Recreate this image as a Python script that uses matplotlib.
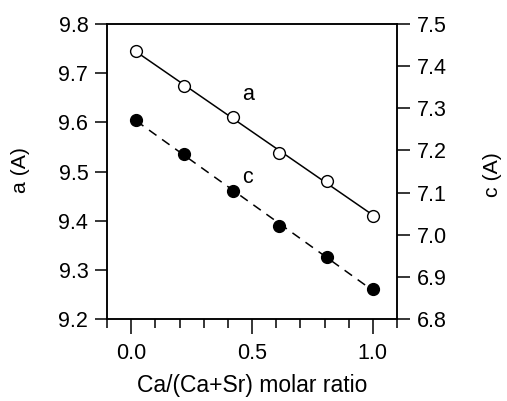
import numpy as np
import matplotlib
matplotlib.use("Agg")
import matplotlib.pyplot as plt
from matplotlib.ticker import MultipleLocator, FixedLocator

plt.rcParams['font.family'] = ['Liberation Sans', 'DejaVu Sans']

# data
ratio = [0.02, 0.22, 0.42, 0.61, 0.81, 1.0]
a_vals = [9.745, 9.674, 9.611, 9.538, 9.481, 9.410]
c_vals = [7.272, 7.191, 7.104, 7.021, 6.947, 6.871]
x_major = [0.0, 0.5, 1.0]
left_ticks = [9.2, 9.3, 9.4, 9.5, 9.6, 9.7, 9.8]
right_ticks = [6.8, 6.9, 7.0, 7.1, 7.2, 7.3, 7.4, 7.5]

fig = plt.figure(figsize=(5.07, 4.01), dpi=100)
ax = fig.add_axes([107/507, 82/401, 290/507, 295/401])
ax2 = ax.twinx()

xs = np.array(ratio)
pa = np.polyfit(xs, a_vals, 1)
pc = np.polyfit(xs, c_vals, 1)
xl = np.array([xs[0], xs[-1]])

ax.plot(xl, np.polyval(pa, xl), color='black', lw=1.1, zorder=2)
ax.plot(xs, a_vals, 'o', ms=8.5, mfc='white', mec='black', mew=1.0, zorder=3)
ax2.plot(xl, np.polyval(pc, xl), color='black', lw=1.1, ls=(0, (6, 4.5)), zorder=2)
ax2.plot(xs, c_vals, 'o', ms=8.5, mfc='black', mec='black', zorder=3)

ax.set_xlim(-0.1, 1.1)
ax.set_ylim(9.2, 9.8)
ax2.set_ylim(6.8, 7.5)

ax.xaxis.set_major_locator(FixedLocator(x_major))
ax.xaxis.set_minor_locator(MultipleLocator(0.1))
ax.set_xticklabels([f"{v:.1f}" for v in x_major])
ax.yaxis.set_major_locator(FixedLocator(left_ticks))
ax.set_yticklabels([f"{v:.1f}" for v in left_ticks])
ax2.yaxis.set_major_locator(FixedLocator(right_ticks))
ax2.set_yticklabels([f"{v:.1f}" for v in right_ticks])

fs = 15.5
ax.tick_params(axis='x', which='major', direction='out', length=11, width=1.1, labelsize=fs, pad=6)
ax.tick_params(axis='x', which='minor', direction='out', length=6.5, width=1.1)
ax.tick_params(axis='y', which='major', direction='out', length=8.5, width=1.1, labelsize=fs, pad=5)
ax2.tick_params(axis='y', which='major', direction='out', length=9.5, width=1.1, labelsize=fs, pad=5)

for a_ in (ax, ax2):
    for s in a_.spines.values():
        s.set_linewidth(1.1)

ax.text(0.485, 9.656, 'a', fontsize=fs, ha='center', va='center')
ax.text(0.48, 9.487, 'c', fontsize=fs, ha='center', va='center')

ax.set_xlabel('Ca/(Ca+Sr) molar ratio', fontsize=16.5)
ax.xaxis.set_label_coords(0.5, -0.224)
ax.xaxis.label.set_va('center')
ax.set_ylabel('a (A)', fontsize=15.3)
ax.yaxis.set_label_coords(-0.30, 0.505)
ax.yaxis.label.set_va('center')
ax2.set_ylabel('c (A)', fontsize=15.3, rotation=90)
ax2.yaxis.set_label_coords(1.328, 0.49)
ax2.yaxis.label.set_va('center')

fig.savefig('out.png', dpi=100)
